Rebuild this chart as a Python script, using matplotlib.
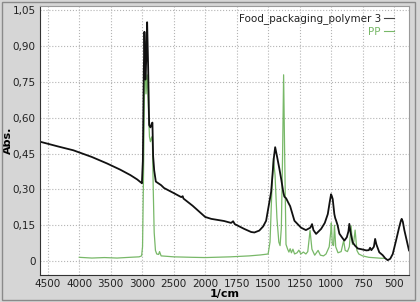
import matplotlib
matplotlib.use("Agg")
import matplotlib.pyplot as plt
import numpy as np
from matplotlib.patches import Rectangle

plt.rcParams['font.family'] = ['Liberation Sans Narrow', 'DejaVu Sans']

# Food_packaging_polymer 3 (wavenumber 1/cm, absorbance)
sample_wn = [4624, 4336, 4094, 3800, 3560, 3350, 3187, 3080, 3024, 3005,
             2990, 2975, 2965, 2950, 2935, 2922, 2905, 2890, 2870, 2850,
             2838, 2827, 2810, 2784, 2700, 2653, 2500, 2380, 2357, 2345,
             2200, 2000, 1952, 1850, 1794, 1778, 1765, 1690, 1635, 1609,
             1570, 1540, 1516, 1476, 1455, 1444, 1430, 1411, 1395, 1380,
             1371, 1357, 1340, 1325, 1291, 1260, 1238, 1200, 1165, 1151,
             1140, 1119, 1079, 1050, 1026, 1010, 1000, 994, 987, 974,
             967, 960, 948, 934, 910, 894, 875, 862, 855, 845,
             828, 810, 788, 760, 720, 700, 690, 680, 660, 650,
             640, 617, 590, 570, 550, 530, 510, 484, 460, 445,
             439, 430, 418, 405, 392, 381]
sample_abs = [0.500, 0.480, 0.464, 0.436, 0.409, 0.383, 0.360, 0.342, 0.330, 0.326,
              0.42, 0.80, 0.96, 0.76, 0.85, 1.00, 0.80, 0.57, 0.56, 0.575,
              0.58, 0.44, 0.38, 0.333, 0.318, 0.306, 0.285, 0.268, 0.272, 0.262,
              0.232, 0.185, 0.177, 0.168, 0.160, 0.167, 0.155, 0.135, 0.122, 0.120,
              0.128, 0.145, 0.169, 0.290, 0.430, 0.477, 0.440, 0.388, 0.340, 0.290,
              0.270, 0.263, 0.245, 0.230, 0.169, 0.152, 0.140, 0.130, 0.140, 0.155,
              0.130, 0.114, 0.135, 0.160, 0.197, 0.250, 0.280, 0.272, 0.260, 0.197,
              0.180, 0.170, 0.150, 0.115, 0.097, 0.086, 0.100, 0.125, 0.156, 0.120,
              0.078, 0.065, 0.053, 0.050, 0.045, 0.046, 0.056, 0.046, 0.060, 0.093,
              0.070, 0.037, 0.025, 0.012, 0.004, 0.010, 0.030, 0.086, 0.140, 0.170,
              0.177, 0.165, 0.130, 0.100, 0.070, 0.045]

# PP reference spectrum
pp_wn = [4000, 3800, 3600, 3400, 3200, 3050, 3010, 2995, 2980, 2965,
         2955, 2940, 2920, 2900, 2885, 2870, 2850, 2838, 2825, 2810,
         2790, 2770, 2740, 2725, 2700, 2500, 2200, 2000, 1800, 1650,
         1560, 1500, 1485, 1470, 1458, 1445, 1430, 1415, 1405, 1395,
         1385, 1377, 1368, 1358, 1345, 1335, 1325, 1315, 1303, 1290,
         1270, 1256, 1240, 1220, 1200, 1185, 1167, 1152, 1130, 1103,
         1085, 1060, 1040, 1015, 1003, 998, 990, 980, 973, 963,
         945, 920, 900, 888, 870, 855, 841, 830, 820, 809,
         795, 780, 750, 700, 650, 600, 577]
pp_abs = [0.016, 0.013, 0.015, 0.013, 0.016, 0.018, 0.022, 0.06, 0.35, 0.70,
          0.92, 0.70, 0.78, 0.62, 0.52, 0.50, 0.52, 0.50, 0.30, 0.12,
          0.045, 0.030, 0.028, 0.040, 0.022, 0.018, 0.016, 0.015, 0.018, 0.022,
          0.026, 0.030, 0.080, 0.300, 0.430, 0.360, 0.180, 0.080, 0.065, 0.140,
          0.450, 0.780, 0.420, 0.070, 0.050, 0.038, 0.052, 0.035, 0.050, 0.030,
          0.035, 0.046, 0.030, 0.038, 0.030, 0.040, 0.128, 0.050, 0.025, 0.045,
          0.025, 0.022, 0.030, 0.060, 0.120, 0.160, 0.070, 0.065, 0.150, 0.060,
          0.035, 0.040, 0.086, 0.045, 0.040, 0.060, 0.148, 0.070, 0.080, 0.130,
          0.045, 0.030, 0.022, 0.016, 0.014, 0.012, 0.012]

x_ticks = [4500, 4000, 3500, 3000, 2500, 2000, 1750, 1500, 1250, 1000, 750, 500]
y_ticks = [0, 0.15, 0.30, 0.45, 0.60, 0.75, 0.90, 1.05]

GREEN = '#78b868'


# below 2000 1/cm the axis is stretched twice as wide
def fwd(x):
    x = np.asarray(x, dtype=float)
    return np.where(x >= 2000, x, 2000 - 2 * (2000 - x))


def inv(u):
    u = np.asarray(u, dtype=float)
    return np.where(u >= 2000, u, 2000 - (2000 - u) / 2)


fig = plt.figure(figsize=(4.2, 3.02), dpi=100)
fig.patch.set_facecolor('#d6d6d6')
fig.patches.append(Rectangle((0.004, 0.008), 0.985, 0.985, transform=fig.transFigure,
                             fill=False, edgecolor='#8a8a8a', linewidth=1.0))
ax = fig.add_axes([40 / 420, 27 / 302, 369 / 420, 269 / 302])
ax.set_facecolor('white')

ax.set_xscale('function', functions=(fwd, inv))
ax.plot(pp_wn, pp_abs, color=GREEN, linewidth=0.9, label='PP')
ax.plot(sample_wn, sample_abs, color='#111111', linewidth=1.3,
        label='Food_packaging_polymer 3')

ax.set_xlim(4624, 381)
ax.set_ylim(-0.058, 1.068)
ax.set_xticks(x_ticks)
ax.set_xticklabels([str(t) for t in x_ticks])
ax.set_yticks(y_ticks)
ax.set_yticklabels(['0' if v == 0 else f'{v:.2f}'.replace('.', ',') for v in y_ticks])
ax.tick_params(length=0, labelsize=7.5, pad=3, colors='#222222')
ax.grid(True, color='#b4b4b4', linestyle=':', linewidth=0.8)

for side in ['left', 'bottom']:
    ax.spines[side].set_color('#333333')
for side in ['top', 'right']:
    ax.spines[side].set_color('#9a9a9a')

ax.set_xlabel('1/cm', fontsize=8, fontweight='bold')
ax.set_ylabel('Abs.', fontsize=8, fontweight='bold')
ax.xaxis.set_label_coords(0.5, -0.053)
ax.yaxis.set_label_coords(-0.072, 0.5)

handles, labels = ax.get_legend_handles_labels()
leg = ax.legend(handles[::-1], labels[::-1], loc='upper right', markerfirst=False,
                frameon=False, fontsize=7.5, handlelength=1.0, handletextpad=0.3,
                labelspacing=0.25, borderaxespad=0.3, bbox_to_anchor=(0.98, 1.0),
                labelcolor=['#222222', GREEN])
for line in leg.get_lines():
    line.set_linewidth(0.8)
    line.set_color('#444444')
leg.get_lines()[1].set_color(GREEN)

fig.savefig('out.png', dpi=100, facecolor=fig.get_facecolor())
